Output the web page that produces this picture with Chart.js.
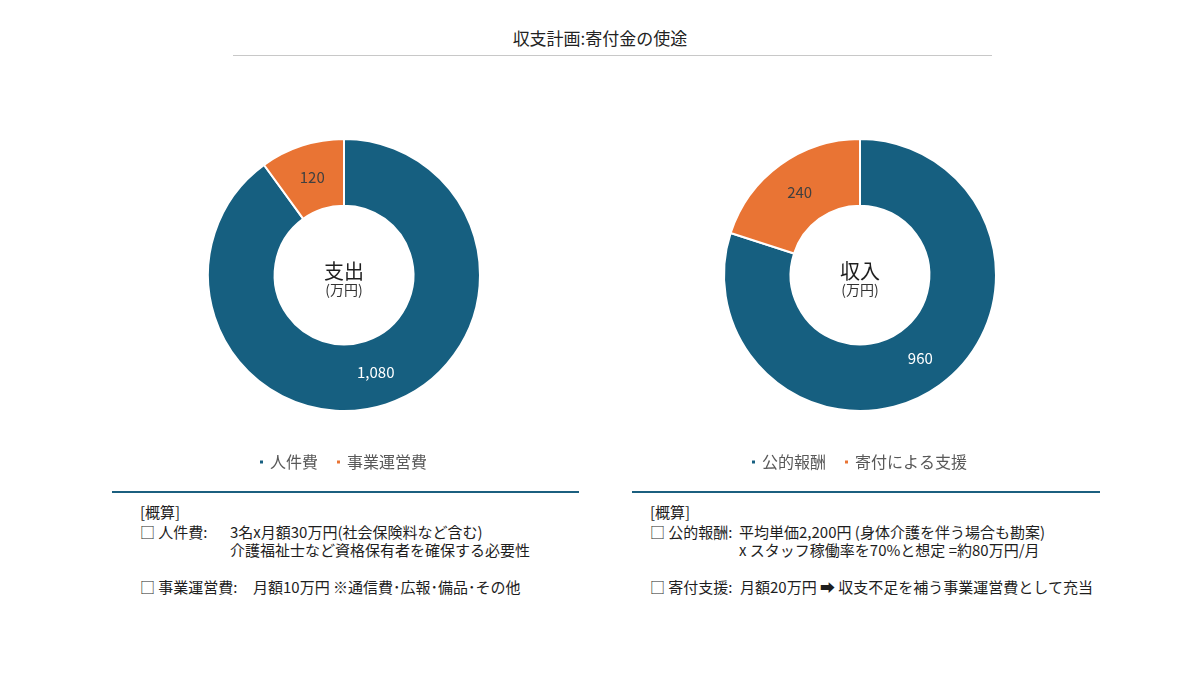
<!DOCTYPE html>
<html lang="ja">
<head>
<meta charset="utf-8">
<title>収支計画:寄付金の使途</title>
<script src="https://cdn.jsdelivr.net/npm/chart.js@4/dist/chart.umd.min.js"></script>
<style>
  html, body {
    margin: 0;
    padding: 0;
    background: #ffffff;
    width: 1200px;
    height: 675px;
    overflow: hidden;
    font-family: "Noto Sans CJK JP", "Noto Sans", sans-serif;
    color: #222222;
  }
  .abs { position: absolute; }
  #title {
    left: 0; width: 1200px; top: 26px;
    text-align: center; font-size: 17px; line-height: 24px;
  }
  #titleRule { left: 233px; top: 55px; width: 759px; height: 1px; background: #c8c8c8; }
  .chartBox { top: 104px; width: 440px; height: 376px; }
  .rule { top: 491px; height: 2px; background: #1b5f7f; }
  .note { font-size: 15px; line-height: 19px; white-space: pre; color: #1e1e1e; }
</style>
</head>
<body>

<div id="title" class="abs">収支計画:寄付金の使途</div>
<div id="titleRule" class="abs"></div>

<div class="abs chartBox" style="left:124px"><canvas id="expenseChart"></canvas></div>
<div class="abs chartBox" style="left:640px"><canvas id="incomeChart"></canvas></div>

<div class="abs rule" style="left:112px; width:467px"></div>
<div class="abs rule" style="left:632px; width:468px"></div>

<!-- notes under the expense chart -->
<div class="abs note" style="left:140px; top:502px">[概算]</div>
<div class="abs note" style="left:140px; top:522px">□ 人件費:</div>
<div class="abs note" style="left:230px; top:522px">3名x月額30万円(社会保険料など含む)</div>
<div class="abs note" style="left:230px; top:540px">介護福祉士など資格保有者を確保する必要性</div>
<div class="abs note" style="left:140px; top:577px">□ 事業運営費:</div>
<div class="abs note" style="left:253px; top:577px">月額10万円 ※通信費･広報･備品･その他</div>

<!-- notes under the income chart -->
<div class="abs note" style="left:650px; top:502px">[概算]</div>
<div class="abs note" style="left:650px; top:522px">□ 公的報酬:</div>
<div class="abs note" style="left:739px; top:522px">平均単価2,200円 (身体介護を伴う場合も勘案)</div>
<div class="abs note" style="left:739px; top:540px">x スタッフ稼働率を70%と想定 =約80万円/月</div>
<div class="abs note" style="left:650px; top:577px">□ 寄付支援:</div>
<div class="abs note" style="left:740px; top:577px">月額20万円 ➡ 収支不足を補う事業運営費として充当</div>

<script>
// ===========================
// DATA
// ===========================

const expenseLabels = ["人件費", "事業運営費"];
const expenseValues = [1080, 120];

const incomeLabels = ["公的報酬", "寄付による支援"];
const incomeValues = [960, 240];

const BLUE = "#165f80";
const ORANGE = "#e97434";
const FONT = '"Noto Sans CJK JP", "Noto Sans", sans-serif';

// ===========================
// PLUGINS
// ===========================

// value labels in the middle of each slice
const sliceLabels = {
  id: "sliceLabels",
  afterDatasetsDraw(chart) {
    const ctx = chart.ctx;
    const meta = chart.getDatasetMeta(0);
    const values = chart.data.datasets[0].data;
    ctx.save();
    ctx.font = "15px " + FONT;
    ctx.textAlign = "center";
    ctx.textBaseline = "middle";
    meta.data.forEach((arc, i) => {
      const pos = arc.tooltipPosition();
      ctx.fillStyle = i === 0 ? "#ffffff" : "#404040";
      ctx.fillText(values[i].toLocaleString("en-US"), pos.x, pos.y);
    });
    ctx.restore();
  },
};

// title in the hole
const centerText = {
  id: "centerText",
  afterDraw(chart, args, opts) {
    const ctx = chart.ctx;
    const area = chart.chartArea;
    const cx = (area.left + area.right) / 2;
    const cy = (area.top + area.bottom) / 2;
    ctx.save();
    ctx.textAlign = "center";
    ctx.textBaseline = "middle";
    ctx.fillStyle = "#1e1e1e";
    ctx.font = "20px " + FONT;
    ctx.fillText(opts.main, cx, cy - 4);
    ctx.fillStyle = "#333333";
    ctx.font = "14px " + FONT;
    ctx.fillText("(万円)", cx, cy + 15);
    ctx.restore();
  },
};

// ===========================
// BUILD A DOUGHNUT
// ===========================

function makeDoughnut(canvasId, labels, values, main) {
  const ctx = document.getElementById(canvasId).getContext("2d");
  return new Chart(ctx, {
    type: "doughnut",
    data: {
      labels: labels,
      datasets: [
        {
          data: values,
          backgroundColor: [BLUE, ORANGE],
          borderColor: "#ffffff",
          borderWidth: 2,
          radius: 136,
          cutout: "51%",
        },
      ],
    },
    options: {
      responsive: true,
      maintainAspectRatio: false,
      animation: false,
      layout: { padding: { top: 12 } },
      plugins: {
        legend: {
          position: "bottom",
          labels: {
            usePointStyle: true,
            pointStyle: "rect",
            boxWidth: 1,
            boxHeight: 5,
            padding: 20,
            color: "#595959",
            font: { family: FONT, size: 16 },
          },
        },
        tooltip: { enabled: false },
        centerText: { main: main },
      },
    },
    plugins: [sliceLabels, centerText],
  });
}

makeDoughnut("expenseChart", expenseLabels, expenseValues, "支出");
makeDoughnut("incomeChart", incomeLabels, incomeValues, "収入");
</script>
</body>
</html>
